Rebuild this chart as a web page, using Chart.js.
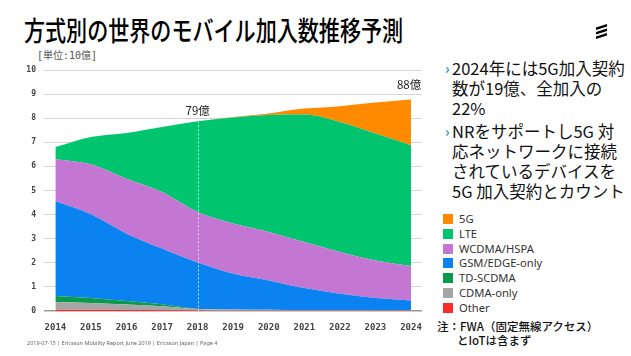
<!DOCTYPE html>
<html lang="ja">
<head>
<meta charset="utf-8">
<script src="https://cdn.jsdelivr.net/npm/chart.js@4.4.1/dist/chart.umd.min.js"></script>
<style>
  html,body{margin:0;padding:0;background:#fff;}
  body{width:631px;height:356px;position:relative;overflow:hidden;font-family:"Noto Sans CJK JP","Noto Sans",sans-serif;color:#000;}
  #title{position:absolute;left:24px;top:12px;font-size:27px;line-height:36px;font-weight:500;white-space:nowrap;transform:scaleX(0.78);transform-origin:left top;}
  #unit{position:absolute;left:37px;top:47px;font-size:10px;color:#555;font-family:"DejaVu Sans Mono","Noto Sans CJK JP",monospace;white-space:nowrap;}
  #chartBox{position:absolute;left:0;top:0;width:431px;height:340px;}
  .ann{position:absolute;font-size:11.5px;color:#222;white-space:nowrap;line-height:12px;}
  #bullets{position:absolute;left:452px;top:58px;font-size:16.5px;line-height:20px;color:#111;}
  #bullets p{margin:0 0 3px 0;position:relative;white-space:nowrap;}
  #bullets p span.b{position:absolute;left:-7px;top:0;color:#1e8fd0;font-size:14px;font-weight:bold;}
  #legend{position:absolute;left:443px;top:212px;font-family:"Noto Sans","Open Sans",sans-serif;font-size:11.2px;color:#333;}
  #legend div{height:14.8px;line-height:14px;position:relative;padding-left:16px;white-space:nowrap;}
  #legend i{position:absolute;left:0;top:2px;width:10px;height:10px;}
  #note{position:absolute;left:437px;top:319px;font-size:11.5px;line-height:14px;font-weight:500;color:#111;white-space:nowrap;}
  #note span{display:inline-block;padding-left:20px;}
  #footer{position:absolute;left:27px;top:339px;font-size:5.5px;color:#666;white-space:nowrap;font-family:"Noto Sans",sans-serif;}
  #logo{position:absolute;left:595px;top:23px;}
</style>
</head>
<body>
<div id="title">方式別の世界のモバイル加入数推移予測</div>
<svg id="logo" width="14" height="17" viewBox="0 0 14 17">
  <polygon points="1,4.5 12,1 12,3.6 1,7.1" fill="#000"/>
  <polygon points="1,9 12,5.5 12,8.1 1,11.6" fill="#000"/>
  <polygon points="1,13.5 12,10 12,12.6 1,16.1" fill="#000"/>
</svg>
<div id="unit">[単位:10億]</div>
<div id="chartBox"><canvas id="c"></canvas></div>
<div class="ann" id="annA">79億</div>
<div class="ann" id="annB">88億</div>
<div id="bullets">
  <p><span class="b">›</span>2024年には5G加入契約<br>数が19億、全加入の<br>22%</p>
  <p><span class="b">›</span>NRをサポートし5G 対<br>応ネットワークに接続<br>されているデバイスを<br>5G 加入契約とカウント</p>
</div>
<div id="legend"></div>
<div id="note">注：FWA（固定無線アクセス）<br><span>とIoTは含まず</span></div>
<div id="footer">2019-07-15 | Ericsson Mobility Report June 2019 | Ericsson Japan | Page 4</div>
<script>
// ---- data (billions of subscriptions) ----
const years   = [2014,2015,2016,2017,2018,2019,2020,2021,2022,2023,2024];
const other   = [0.05,0.05,0.04,0.03,0.02,0.01,0.01,0.01,0.01,0.01,0.01];
const cdma    = [0.32,0.28,0.23,0.17,0.06,0.05,0.04,0.03,0.03,0.02,0.02];
const tdscdma = [0.25,0.21,0.14,0.08,0.01,0.00,0.00,0.00,0.00,0.00,0.00];
const gsm     = [3.93,3.47,2.80,2.31,1.92,1.49,1.22,0.91,0.68,0.51,0.41];
const wcdma   = [1.75,2.08,2.28,2.35,2.10,2.08,2.01,1.91,1.73,1.56,1.43];
const lte     = [0.50,1.13,1.90,2.70,3.76,4.40,4.85,5.29,5.39,5.26,5.01];
const g5      = [0.00,0.00,0.00,0.00,0.00,0.02,0.07,0.25,0.66,1.29,1.90];
const yTicks  = [0,1,2,3,4,5,6,7,8,9,10];
const seriesNames = ["Other","CDMA-only","TD-SCDMA","GSM/EDGE-only","WCDMA/HSPA","LTE","5G"];
const seriesColors = ["#ff2b2b","#a6a6a6","#0b9a4b","#0a82f0","#c377d3","#00c46e","#ff8a00"];
const markYear = 2018, endYear = 2024;

const seriesData = [other,cdma,tdscdma,gsm,wcdma,lte,g5];
const datasets = seriesData.map((arr,i)=>({
  label: seriesNames[i],
  data: years.map((yr,j)=>({x:yr,y:arr[j]})),
  backgroundColor: seriesColors[i],
  borderColor: seriesColors[i],
  borderWidth: 0,
  pointRadius: 0,
  fill: i===0 ? 'origin' : '-1',
  cubicInterpolationMode: 'monotone'
}));

// legend (top-down: 5G first)
const lg = document.getElementById('legend');
for (let i = seriesNames.length-1; i >= 0; i--) {
  const d = document.createElement('div');
  d.innerHTML = '<i style="background:'+seriesColors[i]+'"></i>'+seriesNames[i];
  lg.appendChild(d);
}

const totalAt = (yr)=>{ const j = years.indexOf(yr); return seriesData.reduce((s,a)=>s+a[j],0); };

const refPlugin = {
  id:'refPlugin',
  afterDatasetsDraw(chart){
    const {ctx, scales:{x,y}} = chart;
    const xp = x.getPixelForValue(markYear);
    const top = y.getPixelForValue(totalAt(markYear));
    ctx.save();
    ctx.strokeStyle = 'rgba(225,235,255,0.85)';
    ctx.lineWidth = 1;
    ctx.setLineDash([2,2]);
    ctx.beginPath();
    ctx.moveTo(Math.round(xp)+0.5, top);
    ctx.lineTo(Math.round(xp)+0.5, y.getPixelForValue(0));
    ctx.stroke();
    ctx.restore();
  },
  afterDraw(chart){
    const {x,y} = chart.scales;
    const a = document.getElementById('annA');
    a.style.left = (x.getPixelForValue(markYear) - a.offsetWidth/2) + 'px';
    a.style.top = (y.getPixelForValue(totalAt(markYear)) - 17) + 'px';
    const b = document.getElementById('annB');
    b.style.left = (x.getPixelForValue(endYear) + 10 - b.offsetWidth) + 'px';
    b.style.top = (y.getPixelForValue(totalAt(endYear)) - 21) + 'px';
  }
};

new Chart(document.getElementById('c'), {
  type:'line',
  data:{datasets},
  plugins:[refPlugin],
  options:{
    responsive:true,
    maintainAspectRatio:false,
    animation:false,
    layout:{padding:{left:0,top:70,right:9,bottom:9}},
    plugins:{legend:{display:false},tooltip:{enabled:false}},
    elements:{line:{tension:0.3}},
    scales:{
      x:{
        type:'linear',
        min:2013.68, max:2024.31,
        afterBuildTicks:(s)=>{ s.ticks = years.map(v=>({value:v})); },
        afterFit:(s)=>{ s.height = 20; },
        grid:{display:false},
        border:{display:false},
        ticks:{
          padding:3,
          color:'#444',
          font:{family:'DejaVu Sans Mono',size:9,weight:'bold'},
          callback:(v)=>String(v),
          maxRotation:0, autoSkip:false
        }
      },
      y:{
        stacked:true,
        min:0, max:10,
        afterBuildTicks:(s)=>{ s.ticks = yTicks.map(v=>({value:v})); },
        afterFit:(s)=>{ s.width = 44; },
        border:{display:false},
        grid:{
          drawTicks:false,
          color:(c)=> c.tick && c.tick.value===0 ? '#9a9a9a' : '#d6d6d6',
          lineWidth:(c)=> c.tick && c.tick.value===0 ? 1.5 : 1
        },
        ticks:{
          padding:8,
          color:'#444',
          font:{family:'DejaVu Sans Mono',size:8,weight:'bold'},
          callback:(v)=>String(v)
        }
      }
    }
  }
});
</script>
</body>
</html>
